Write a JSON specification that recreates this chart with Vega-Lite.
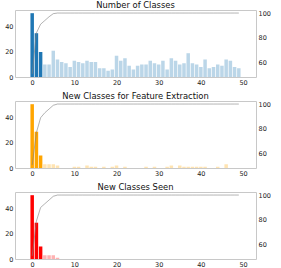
{
  "$schema": "https://vega.github.io/schema/vega-lite/v6.json",
  "padding": {"left": 4, "top": 0, "right": 0, "bottom": 0},
  "spacing": 5,
  "config": {
    "font": "DejaVu Sans",
    "view": {"stroke": "#c8c8c8", "strokeWidth": 1},
    "axis": {"domain": false, "ticks": false, "grid": false, "labelFont": "DejaVu Sans", "labelFontSize": 6.5, "labelColor": "#222222", "labelPadding": 2, "title": null},
    "title": {"font": "DejaVu Sans", "fontSize": 8.4, "fontWeight": "normal", "color": "#111111", "offset": 1, "frame": "group", "anchor": "middle"}
  },
  "datasets": {
    "p1": [
      {"x":0,"count":51,"pct":51},{"x":1,"count":35,"pct":84},{"x":2,"count":20,"pct":91},{"x":3,"count":10,"pct":94},{"x":4,"count":10,"pct":97},
      {"x":5,"count":21,"pct":99.5},{"x":6,"count":14,"pct":100},{"x":7,"count":12,"pct":100},{"x":8,"count":11,"pct":100},{"x":9,"count":8,"pct":100},
      {"x":10,"count":13,"pct":100},{"x":11,"count":12,"pct":100},{"x":12,"count":11,"pct":100},{"x":13,"count":13,"pct":100},{"x":14,"count":12,"pct":100},
      {"x":15,"count":12,"pct":100},{"x":16,"count":7,"pct":100},{"x":17,"count":7,"pct":100},{"x":18,"count":5,"pct":100},{"x":19,"count":6,"pct":100},
      {"x":20,"count":17,"pct":100},{"x":21,"count":13,"pct":100},{"x":22,"count":15,"pct":100},{"x":23,"count":9,"pct":100},{"x":24,"count":6,"pct":100},
      {"x":25,"count":9,"pct":100},{"x":26,"count":10,"pct":100},{"x":27,"count":10,"pct":100},{"x":28,"count":13,"pct":100},{"x":29,"count":11,"pct":100},
      {"x":30,"count":10,"pct":100},{"x":31,"count":13,"pct":100},{"x":32,"count":6,"pct":100},{"x":33,"count":15,"pct":100},{"x":34,"count":13,"pct":100},
      {"x":35,"count":10,"pct":100},{"x":36,"count":11,"pct":100},{"x":37,"count":19,"pct":100},{"x":38,"count":11,"pct":100},{"x":39,"count":10,"pct":100},
      {"x":40,"count":8,"pct":100},{"x":41,"count":14,"pct":100},{"x":42,"count":7,"pct":100},{"x":43,"count":8,"pct":100},{"x":44,"count":10,"pct":100},
      {"x":45,"count":9,"pct":100},{"x":46,"count":14,"pct":100},{"x":47,"count":13,"pct":100},{"x":48,"count":8,"pct":100},{"x":49,"count":7,"pct":100}
    ],
    "p2": [
      {"x":0,"count":51,"pct":51},{"x":1,"count":29,"pct":77},{"x":2,"count":10,"pct":89},{"x":3,"count":3,"pct":93},{"x":4,"count":3,"pct":96},
      {"x":5,"count":3,"pct":99},{"x":6,"count":2,"pct":100},{"x":7,"count":0,"pct":100},{"x":8,"count":0,"pct":100},{"x":9,"count":0,"pct":100},
      {"x":10,"count":1,"pct":100},{"x":11,"count":1,"pct":100},{"x":12,"count":0,"pct":100},{"x":13,"count":2,"pct":100},{"x":14,"count":1,"pct":100},
      {"x":15,"count":1,"pct":100},{"x":16,"count":0,"pct":100},{"x":17,"count":1,"pct":100},{"x":18,"count":0,"pct":100},{"x":19,"count":1,"pct":100},
      {"x":20,"count":2,"pct":100},{"x":21,"count":0,"pct":100},{"x":22,"count":1,"pct":100},{"x":23,"count":0,"pct":100},{"x":24,"count":0,"pct":100},
      {"x":25,"count":0,"pct":100},{"x":26,"count":0,"pct":100},{"x":27,"count":1,"pct":100},{"x":28,"count":0,"pct":100},{"x":29,"count":1,"pct":100},
      {"x":30,"count":0,"pct":100},{"x":31,"count":0,"pct":100},{"x":32,"count":1,"pct":100},{"x":33,"count":2,"pct":100},{"x":34,"count":0,"pct":100},
      {"x":35,"count":2,"pct":100},{"x":36,"count":1,"pct":100},{"x":37,"count":1,"pct":100},{"x":38,"count":1,"pct":100},{"x":39,"count":1,"pct":100},
      {"x":40,"count":1,"pct":100},{"x":41,"count":1,"pct":100},{"x":42,"count":0,"pct":100},{"x":43,"count":0,"pct":100},{"x":44,"count":1,"pct":100},
      {"x":45,"count":0,"pct":100},{"x":46,"count":3,"pct":100},{"x":47,"count":0,"pct":100},{"x":48,"count":0,"pct":100},{"x":49,"count":0,"pct":100}
    ],
    "p3": [
      {"x":0,"count":51,"pct":51},{"x":1,"count":29,"pct":79},{"x":2,"count":10,"pct":90},{"x":3,"count":3,"pct":93},{"x":4,"count":3,"pct":96},
      {"x":5,"count":3,"pct":99},{"x":6,"count":1,"pct":100},{"x":7,"count":0,"pct":100},{"x":8,"count":0,"pct":100},{"x":9,"count":0,"pct":100},
      {"x":10,"count":0,"pct":100},{"x":11,"count":0,"pct":100},{"x":12,"count":0,"pct":100},{"x":13,"count":0,"pct":100},{"x":14,"count":0,"pct":100},
      {"x":15,"count":0,"pct":100},{"x":16,"count":0,"pct":100},{"x":17,"count":0,"pct":100},{"x":18,"count":0,"pct":100},{"x":19,"count":0,"pct":100},
      {"x":20,"count":0,"pct":100},{"x":21,"count":0,"pct":100},{"x":22,"count":0,"pct":100},{"x":23,"count":0,"pct":100},{"x":24,"count":0,"pct":100},
      {"x":25,"count":0,"pct":100},{"x":26,"count":0,"pct":100},{"x":27,"count":0,"pct":100},{"x":28,"count":0,"pct":100},{"x":29,"count":0,"pct":100},
      {"x":30,"count":0,"pct":100},{"x":31,"count":0,"pct":100},{"x":32,"count":0,"pct":100},{"x":33,"count":0,"pct":100},{"x":34,"count":0,"pct":100},
      {"x":35,"count":0,"pct":100},{"x":36,"count":0,"pct":100},{"x":37,"count":0,"pct":100},{"x":38,"count":0,"pct":100},{"x":39,"count":0,"pct":100},
      {"x":40,"count":0,"pct":100},{"x":41,"count":0,"pct":100},{"x":42,"count":0,"pct":100},{"x":43,"count":0,"pct":100},{"x":44,"count":0,"pct":100},
      {"x":45,"count":0,"pct":100},{"x":46,"count":0,"pct":100},{"x":47,"count":0,"pct":100},{"x":48,"count":0,"pct":100},{"x":49,"count":0,"pct":100}
    ]
  },
  "vconcat": [
    {
      "title": "Number of Classes",
      "width": 241, "height": 67,
      "data": {"name": "p1"},
      "layer": [
        {"mark": {"type": "bar", "size": 3.5, "color": "#1f77b4"},
         "encoding": {
           "x": {"field": "x", "type": "quantitative", "scale": {"domain": [-2.89, 51.89], "nice": false, "zero": false}, "axis": {"values": [0,10,20,30,40,50]}},
           "y": {"field": "count", "type": "quantitative", "scale": {"domain": [0, 53.55], "nice": false}, "axis": {"values": [0,20,40]}},
           "opacity": {"condition": {"test": "datum.x < 3", "value": 1}, "value": 0.3}
         }},
        {"mark": {"type": "line", "color": "#808080", "opacity": 0.6, "strokeWidth": 1},
         "encoding": {
           "x": {"field": "x", "type": "quantitative"},
           "y": {"field": "pct", "type": "quantitative", "scale": {"domain": [48.55, 102.45], "nice": false, "zero": false}, "axis": {"orient": "right", "values": [60,80,100], "labelColor": "#222222"}}
         }}
      ],
      "resolve": {"scale": {"y": "independent"}}
    },
    {
      "title": "New Classes for Feature Extraction",
      "width": 241, "height": 67,
      "data": {"name": "p2"},
      "layer": [
        {"mark": {"type": "bar", "size": 3.5, "color": "#ffa500"},
         "encoding": {
           "x": {"field": "x", "type": "quantitative", "scale": {"domain": [-2.89, 51.89], "nice": false, "zero": false}, "axis": {"values": [0,10,20,30,40,50]}},
           "y": {"field": "count", "type": "quantitative", "scale": {"domain": [0, 53.55], "nice": false}, "axis": {"values": [0,20,40]}},
           "opacity": {"condition": {"test": "datum.x < 3", "value": 1}, "value": 0.3}
         }},
        {"mark": {"type": "line", "color": "#808080", "opacity": 0.6, "strokeWidth": 1},
         "encoding": {
           "x": {"field": "x", "type": "quantitative"},
           "y": {"field": "pct", "type": "quantitative", "scale": {"domain": [48.55, 102.45], "nice": false, "zero": false}, "axis": {"orient": "right", "values": [60,80,100], "labelColor": "#222222"}}
         }}
      ],
      "resolve": {"scale": {"y": "independent"}}
    },
    {
      "title": "New Classes Seen",
      "width": 241, "height": 67,
      "data": {"name": "p3"},
      "layer": [
        {"mark": {"type": "bar", "size": 3.5, "color": "#ff0000"},
         "encoding": {
           "x": {"field": "x", "type": "quantitative", "scale": {"domain": [-2.89, 51.89], "nice": false, "zero": false}, "axis": {"values": [0,10,20,30,40,50]}},
           "y": {"field": "count", "type": "quantitative", "scale": {"domain": [0, 53.55], "nice": false}, "axis": {"values": [0,20,40]}},
           "opacity": {"condition": {"test": "datum.x < 3", "value": 1}, "value": 0.3}
         }},
        {"mark": {"type": "line", "color": "#808080", "opacity": 0.6, "strokeWidth": 1},
         "encoding": {
           "x": {"field": "x", "type": "quantitative"},
           "y": {"field": "pct", "type": "quantitative", "scale": {"domain": [48.55, 102.45], "nice": false, "zero": false}, "axis": {"orient": "right", "values": [60,80,100], "labelColor": "#222222"}}
         }}
      ],
      "resolve": {"scale": {"y": "independent"}}
    }
  ]
}
